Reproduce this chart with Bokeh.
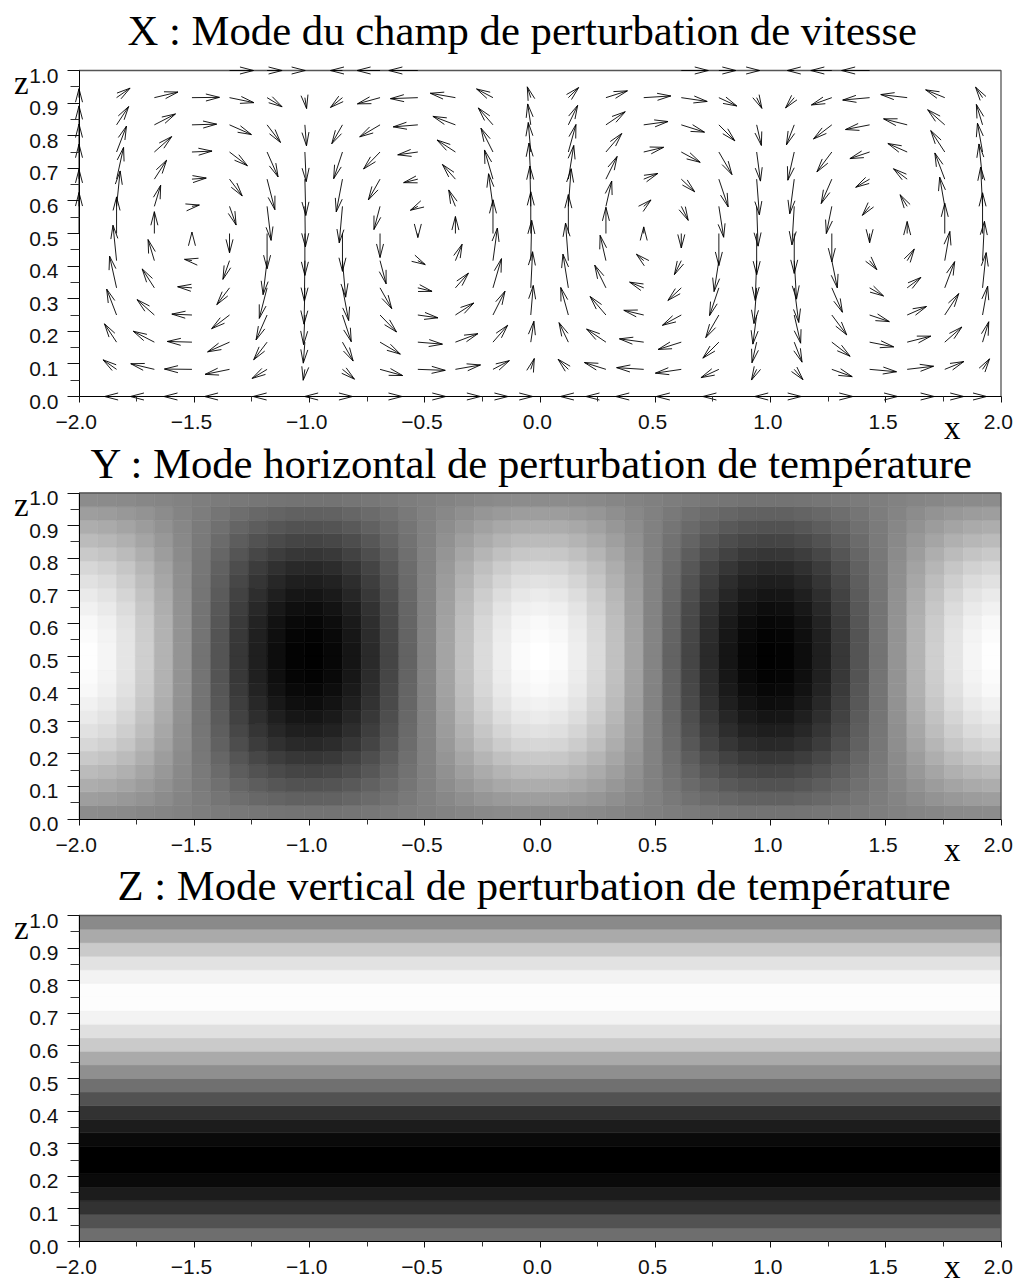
from bokeh.plotting import figure
from bokeh.layouts import column
from bokeh.core.properties import value
from bokeh.models import ColumnDataSource, FixedTicker, Label, LabelSet, CustomJSTickFormatter
from bokeh.embed import file_html
from bokeh.resources import INLINE
import numpy as np
import math

TITLE_X = "X : Mode du champ de perturbation de vitesse"
TITLE_Y = "Y : Mode horizontal de perturbation de température"
TITLE_Z = "Z : Mode vertical de perturbation de température"

X_TICKS = [-2.0, -1.5, -1.0, -0.5, 0.0, 0.5, 1.0, 1.5, 2.0]
X_TICK_LABELS = ["\u22122.0", "\u22121.5", "\u22121.0", "\u22120.5", "0.0", "0.5", "1.0", "1.5", "2.0"]
X_MINOR = [-1.75, -1.25, -0.75, -0.25, 0.25, 0.75, 1.25, 1.75]
Z_TICKS = [0.0, 0.1, 0.2, 0.3, 0.4, 0.5, 0.6, 0.7, 0.8, 0.9, 1.0]
Z_TICK_LABELS = ["0.0", "0.1", "0.2", "0.3", "0.4", "0.5", "0.6", "0.7", "0.8", "0.9", "1.0"]
Z_MINOR = [0.05, 0.15, 0.25, 0.35, 0.45, 0.55, 0.65, 0.75, 0.85, 0.95]

ARROW_X = [-2.00, -1.837, -1.673, -1.51, -1.347, -1.184, -1.02, -0.857, -0.694, -0.53, -0.367, -0.204,
           -0.04, 0.123, 0.286, 0.45, 0.613, 0.776, 0.94, 1.103, 1.266, 1.43, 1.593, 1.756, 1.92]
ARROW_Z = [0.0, 0.0833, 0.1667, 0.25, 0.3333, 0.4167, 0.5, 0.5833, 0.6667, 0.75, 0.8333, 0.9167, 1.0]

# velocity components, one row per height (bottom row first)
U = [
 [0, -12, -24, -28, -25, -14, -0.3, 10, 22, 28, 25, 15, 2, -8, -20, -28, -25, -16, -2, 7, 21, 28, 27, 19, 4],
 [0, -13.5, -23.6, -27.5, -24.4, -15.0, -1.7, 12.0, 22.6, 27.4, 25.1, 16.4, 3.5, -10.3, -21.5, -27.1, -25.9, -17.9, -5.2, 8.7, 20.4, 26.9, 26.4, 19.1, 7.0],
 [0, -12.1, -21.1, -24.7, -21.9, -13.4, -1.6, 10.7, 20.3, 24.6, 22.5, 14.7, 3.1, -9.3, -19.3, -24.3, -23.2, -16.0, -4.7, 7.8, 18.3, 24.1, 23.6, 17.1, 6.2],
 [0, -9.9, -17.3, -20.1, -17.9, -11.0, -1.3, 8.8, 16.5, 20.1, 18.4, 12.0, 2.5, -7.6, -15.8, -19.9, -18.9, -13.1, -3.8, 6.4, 14.9, 19.7, 19.3, 14.0, 5.1],
 [0, -7.0, -12.2, -14.3, -12.7, -7.8, -0.9, 6.2, 11.7, 14.2, 13.0, 8.5, 1.8, -5.4, -11.2, -14.1, -13.4, -9.3, -2.7, 4.5, 10.6, 13.9, 13.7, 9.9, 3.6],
 [0, -3.6, -6.3, -7.4, -6.6, -4.0, -0.5, 3.2, 6.1, 7.4, 6.7, 4.4, 0.9, -2.8, -5.8, -7.3, -6.9, -4.8, -1.4, 2.3, 5.5, 7.2, 7.1, 5.1, 1.9],
 [0, 0, 0, 0, 0, 0, 0, 0, 0, 0, 0, 0, 0, 0, 0, 0, 0, 0, 0, 0, 0, 0, 0, 0, 0],
 [0, 3.6, 6.3, 7.4, 6.6, 4.0, 0.5, -3.2, -6.1, -7.4, -6.7, -4.4, -0.9, 2.8, 5.8, 7.3, 6.9, 4.8, 1.4, -2.3, -5.5, -7.2, -7.1, -5.1, -1.9],
 [0, 7.0, 12.2, 14.3, 12.7, 7.8, 0.9, -6.2, -11.7, -14.2, -13.0, -8.5, -1.8, 5.4, 11.2, 14.1, 13.4, 9.3, 2.7, -4.5, -10.6, -13.9, -13.7, -9.9, -3.6],
 [0, 9.9, 17.3, 20.1, 17.9, 11.0, 1.3, -8.8, -16.5, -20.1, -18.4, -12.0, -2.5, 7.6, 15.8, 19.9, 18.9, 13.1, 3.8, -6.4, -14.9, -19.7, -19.3, -14.0, -5.1],
 [0, 12.1, 21.1, 24.7, 21.9, 13.4, 1.6, -10.7, -20.3, -24.6, -22.5, -14.7, -3.1, 9.3, 19.3, 24.3, 23.2, 16.0, 4.7, -7.8, -18.3, -24.1, -23.6, -17.1, -6.2],
 [0, 13.5, 23.6, 27.5, 24.4, 15.0, 1.7, -12.0, -22.6, -27.4, -25.1, -16.4, -3.5, 10.3, 21.5, 27.1, 25.9, 17.9, 5.2, -8.7, -20.4, -26.9, -26.4, -19.1, -7.0],
 [0, 0, 0, 0, 24, 15, 0.3, -12, -23, -29, 0, 0, 0, 0, 0, 0, 27, 17, 3, -7, -21, -28, 0, 0, 0],
]
W = [
 [0, 0, 0, 0, 0, 0, 0, 0, 0, 0, 0, 0, 0, 0, 0, 0, 0, 0, 0, 0, 0, 0, 0, 0, 0],
 [0, 9.5, 5.6, 0.3, -5.0, -9.1, -10.9, -9.8, -6.2, -1.0, 4.4, 8.7, 10.8, 10.1, 6.8, 1.7, -3.8, -8.3, -10.7, -10.3, -7.3, -2.4, 3.1, 7.8, 10.5],
 [0, 18.3, 10.9, 0.7, -9.7, -17.6, -21.0, -18.9, -12.0, -2.0, 8.5, 16.9, 20.9, 19.5, 13.1, 3.3, -7.3, -16.0, -20.6, -20.0, -14.1, -4.7, 6.0, 15.1, 20.4],
 [0, 25.9, 15.4, 0.9, -13.7, -24.9, -29.6, -26.7, -17.0, -2.8, 12.0, 23.8, 29.5, 27.5, 18.5, 4.7, -10.3, -22.6, -29.1, -28.2, -19.9, -6.6, 8.5, 21.4, 28.8],
 [0, 31.7, 18.9, 1.1, -16.8, -30.5, -36.3, -32.7, -20.8, -3.5, 14.7, 29.2, 36.1, 33.7, 22.7, 5.7, -12.6, -27.7, -35.7, -34.6, -24.4, -8.1, 10.4, 26.2, 35.2],
 [0, 35.4, 21.1, 1.3, -18.7, -34.0, -40.5, -36.5, -23.2, -3.9, 16.4, 32.6, 40.3, 37.6, 25.3, 6.4, -14.0, -30.9, -39.8, -38.5, -27.2, -9.0, 11.6, 29.2, 39.3],
 [41, 36.6, 21.8, 1.3, -19.4, -35.2, -41.9, -37.8, -24.0, -4.0, 17.0, 33.7, 41.7, 38.9, 26.2, 6.6, -14.5, -32.0, -41.2, -39.9, -28.2, -9.3, 12.0, 30.2, 40.7],
 [37, 35.4, 21.1, 1.3, -18.7, -34.0, -40.5, -36.5, -23.2, -3.9, 16.4, 32.6, 40.3, 37.6, 25.3, 6.4, -14.0, -30.9, -39.8, -38.5, -27.2, -9.0, 11.6, 29.2, 39.3],
 [35, 31.7, 18.9, 1.1, -16.8, -30.5, -36.3, -32.7, -20.8, -3.5, 14.7, 29.2, 36.1, 33.7, 22.7, 5.7, -12.6, -27.7, -35.7, -34.6, -24.4, -8.1, 10.4, 26.2, 35.2],
 [28, 25.9, 15.4, 0.9, -13.7, -24.9, -29.6, -26.7, -17.0, -2.8, 12.0, 23.8, 29.5, 27.5, 18.5, 4.7, -10.3, -22.6, -29.1, -28.2, -19.9, -6.6, 8.5, 21.4, 28.8],
 [19, 18.3, 10.9, 0.7, -9.7, -17.6, -21.0, -18.9, -12.0, -2.0, 8.5, 16.9, 20.9, 19.5, 13.1, 3.3, -7.3, -16.0, -20.6, -20.0, -14.1, -4.7, 6.0, 15.1, 20.4],
 [9, 9.5, 5.6, 0.3, -5.0, -9.1, -10.9, -9.8, -6.2, -1.0, 4.4, 8.7, 10.8, 10.1, 6.8, 1.7, -3.8, -8.3, -10.7, -10.3, -7.3, -2.4, 3.1, 7.8, 10.5],
 [0, 0, 0, 0, 0, 0, 0, 0, 0, 0, 0, 0, 0, 0, 0, 0, 0, 0, 0, 0, 0, 0, 0, 0, 0],
]

# horizontal mode: signed amplitude per column at mid height, and its fading with height
Y_COLUMN = [0.992, 0.927, 0.802, 0.624, 0.405, 0.160, -0.096, -0.345, -0.572, -0.762, -0.901, -0.982,
            -0.998, -0.949, -0.838, -0.672, -0.462, -0.222, 0.033, 0.286, 0.519, 0.719, 0.872, 0.968, 1.0,
            0.968, 0.872, 0.719, 0.519, 0.286, 0.033, -0.222, -0.462, -0.672, -0.838, -0.949, -0.998,
            -0.982, -0.901, -0.762, -0.572, -0.345, -0.096, 0.160, 0.405, 0.624, 0.802, 0.927, 0.992]
Y_ROW = [0.10, 0.24, 0.36, 0.47, 0.58, 0.69, 0.77, 0.84, 0.90, 0.95, 0.98, 0.997,
         0.997, 0.98, 0.95, 0.90, 0.84, 0.77, 0.69, 0.58, 0.47, 0.36, 0.24, 0.10]
# vertical mode: grey level per band, bottom band first
Z_BANDS = [110, 82, 50, 28, 10, 0, 0, 10, 28, 50, 82, 112, 143, 170, 202, 224, 243, 253, 253, 243, 226, 202, 170, 138]

CANVAS_W = 1016
LEFT, RIGHT = 78.5, 1000.5
FRAME_H = 326.0
PX_X = (RIGHT - LEFT) / 4.0
PX_Z = FRAME_H
BARB, BARB_ANGLE = 14.0, math.radians(14.5)
TICK_FONT = "21px"
SANS, SERIF = "Liberation Sans", "Liberation Serif"
TITLE_LIFT, AXIS_LIFT = 15.4, 11.0
OVERLAP = 14


def panel(height, top, title, title_dx, title_up, x_below, overlap=0):
    below = height - top - FRAME_H
    p = figure(width=CANVAS_W, height=height,
               x_range=(-2 - LEFT / PX_X, 2 + (CANVAS_W - RIGHT) / PX_X),
               y_range=(-below / PX_Z, 1 + top / PX_Z),
               min_border_left=0, min_border_right=0, min_border_top=0, min_border_bottom=0,
               toolbar_location=None, output_backend="svg", tools="",
               margin=(-overlap, 0, 0, 0), border_fill_color=None, background_fill_color=None)
    p.grid.visible = False
    p.outline_line_color = None
    blank = CustomJSTickFormatter(code='return ""')
    p.xaxis.fixed_location = 0
    p.yaxis.fixed_location = -2
    p.xaxis.bounds = (-2, 2)
    p.yaxis.bounds = (0, 1)
    for ax, major, minor, mo, mi in ((p.xaxis, X_TICKS, X_MINOR, 6, 5), (p.yaxis, Z_TICKS, Z_MINOR, 12, 9)):
        ax.ticker = FixedTicker(ticks=major, minor_ticks=minor)
        ax.formatter = blank
        ax.major_tick_out, ax.major_tick_in = mo, 0
        ax.minor_tick_out, ax.minor_tick_in = mi, 0
        ax.axis_line_color = "#000000"
        ax.major_tick_line_color = "#111111"
        ax.minor_tick_line_color = "#333333"
    p.add_layout(LabelSet(x="x", y="y", text="t", text_align="center", text_baseline="middle",
                          x_offset=-2.7, y_offset=-25.5, text_font=value(SANS),
                          text_font_size=value(TICK_FONT), text_color="#111111",
                          source=ColumnDataSource(dict(x=X_TICKS, y=[0.0] * len(X_TICKS), t=X_TICK_LABELS))))
    p.add_layout(LabelSet(x="x", y="y", text="t", text_align="right", text_baseline="middle",
                          x_offset=-20.5, y_offset=-5, text_font=value(SANS),
                          text_font_size=value(TICK_FONT), text_color="#111111",
                          source=ColumnDataSource(dict(x=[-2.0] * len(Z_TICKS), y=Z_TICKS, t=Z_TICK_LABELS))))
    p.add_layout(Label(x=-2, y=1, x_offset=title_dx, y_offset=title_up + TITLE_LIFT, text=title, text_align="left",
                       text_baseline="alphabetic", text_font=SERIF, text_font_size="42.7px",
                       text_color="#000000"))
    p.add_layout(Label(x=-2, y=1, x_offset=-65, y_offset=-23 + AXIS_LIFT, text="z", text_align="left",
                       text_baseline="alphabetic", text_font=SERIF, text_font_size="33px",
                       text_color="#000000"))
    p.add_layout(Label(x=2, y=0, x_offset=-57, y_offset=-x_below + AXIS_LIFT, text="x", text_align="left",
                       text_baseline="alphabetic", text_font=SERIF, text_font_size="33px",
                       text_color="#000000"))
    return p


def frame_edge(p):
    p.line([-2, 2, 2], [1, 1, 0], line_color="#555555", line_width=1.3)


def grey_hex(v):
    g = int(round(max(0, min(255, v))))
    return "#%02x%02x%02x" % (g, g, g)


# --- quiver panel
p1 = panel(450, 70, TITLE_X, 48.5, 25, 42)
frame_edge(p1)
x0, z0, x1, z1 = [], [], [], []
for j, z in enumerate(ARROW_Z):
    for i, x in enumerate(ARROW_X):
        u, w = U[j][i], W[j][i]
        if u == 0 and w == 0:
            continue
        tx, tz = x + u / PX_X, z + w / PX_Z
        x0.append(x); z0.append(z); x1.append(tx); z1.append(tz)
        ang = math.atan2(w, u)
        for sgn in (-1, 1):
            a = ang + math.pi + sgn * BARB_ANGLE
            x0.append(tx); z0.append(tz)
            x1.append(tx + BARB * math.cos(a) / PX_X)
            z1.append(tz + BARB * math.sin(a) / PX_Z)
p1.segment(x0, z0, x1, z1, line_color="#000000", line_width=0.9)

# --- horizontal temperature mode (canvas starts at y=436, frame top at y=492.5)
p2 = panel(436, 56.5, TITLE_Y, 11.5, 14, 42, overlap=OVERLAP)
ny, nx = len(Y_ROW), len(Y_COLUMN)
grey_y = 127.5 * (1 + np.outer(np.array(Y_ROW), np.array(Y_COLUMN)))
xe = np.linspace(-2, 2, nx + 1)
ze = np.linspace(0, 1, ny + 1)
L, B = np.meshgrid(xe[:-1], ze[:-1])
R, T = np.meshgrid(xe[1:], ze[1:])
cols = [grey_hex(v) for v in grey_y.ravel()]
p2.quad(left=L.ravel(), right=R.ravel(), bottom=B.ravel(), top=T.ravel(),
        fill_color=cols, line_color=cols, line_width=0.6)
frame_edge(p2)

# --- vertical temperature mode (canvas starts at y=858, frame top at y=915)
p3 = panel(426, 57, TITLE_Z, 38.5, 15, 36, overlap=OVERLAP)
ze3 = np.linspace(0, 1, len(Z_BANDS) + 1)
cols3 = [grey_hex(v) for v in Z_BANDS]
p3.quad(left=-2, right=2, bottom=ze3[:-1], top=ze3[1:], fill_color=cols3, line_color=cols3, line_width=0.6)
frame_edge(p3)

layout = column(p1, p2, p3, spacing=0)
open("out.html", "w").write(file_html(layout, INLINE))
